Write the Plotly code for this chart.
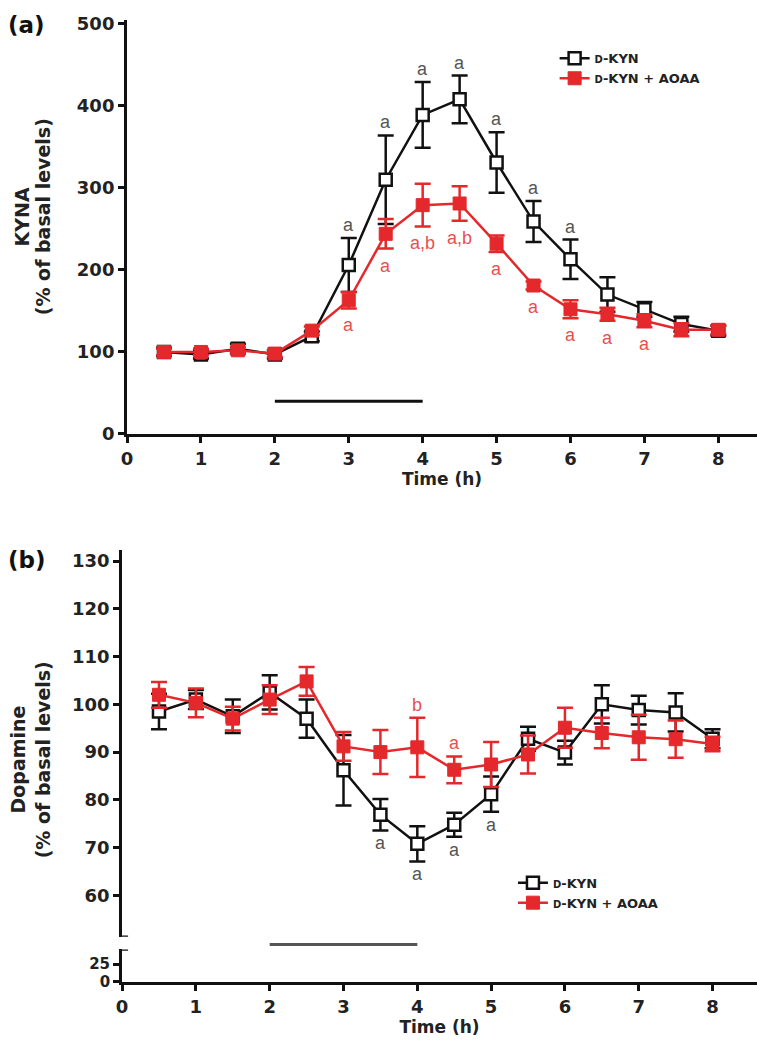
import plotly.graph_objects as go

# ---------------- data ----------------
time_h = [0.5, 1, 1.5, 2, 2.5, 3, 3.5, 4, 4.5, 5, 5.5, 6, 6.5, 7, 7.5, 8]

# Panel (a) KYNA (% of basal levels)
kyna_dkyn = [100, 97, 104, 97, 119, 206, 310, 389, 408, 331, 259, 213, 170, 152, 134, 126]
kyna_dkyn_err = [5, 5, 6, 5, 6, 33, 54, 40, 29, 37, 25, 24, 21, 9, 9, 6]
kyna_aoaa = [100, 100, 102, 98, 126, 163, 244, 279, 281, 232, 181, 152, 146, 138, 127, 127]
kyna_aoaa_err = [4, 4, 4, 4, 5, 10, 18, 26, 21, 10, 5, 11, 8, 8, 8, 5]
kyna_dkyn_sig = ["", "", "", "", "", "a", "a", "a", "a", "a", "a", "a", "", "", "", ""]
kyna_aoaa_sig = ["", "", "", "", "", "a", "a", "a,b", "a,b", "a", "a", "a", "a", "a", "", ""]

# Panel (b) Dopamine (% of basal levels)
da_dkyn = [98.5, 101, 97.5, 102.5, 97, 86.2, 76.9, 70.8, 74.8, 81.2, 92.8, 89.9, 100, 98.8, 98.3, 92.8]
da_dkyn_err = [3.7, 2, 3.5, 3.6, 4, 7.4, 3.3, 3.7, 2.5, 3.7, 2.5, 2.5, 4, 3, 4, 2]
da_aoaa = [102, 100.3, 97, 101, 104.8, 91.2, 90, 91, 86.3, 87.4, 89.5, 95.1, 94, 93.1, 92.7, 91.7]
da_aoaa_err = [2.7, 3, 2.5, 3, 3, 3, 4.6, 6.2, 2.8, 4.7, 4, 4.2, 3.2, 4.7, 3.9, 1.5]
da_dkyn_sig = ["", "", "", "", "", "", "a", "a", "a", "a", "", "", "", "", "", ""]
da_aoaa_sig = ["", "", "", "", "", "", "", "b", "a", "", "", "", "", "", "", ""]

infusion = [2, 4]          # treatment period (h)
x_ticks = [0, 1, 2, 3, 4, 5, 6, 7, 8]
kyna_ticks = [0, 100, 200, 300, 400, 500]
da_ticks_upper = [60, 70, 80, 90, 100, 110, 120, 130]
da_ticks_lower = [0, 25]

name_dkyn = "<span style='font-size:10px'>D</span>-KYN"
name_aoaa = "<span style='font-size:10px'>D</span>-KYN + AOAA"

# ---------------- styles ----------------
W, H = 757, 1050
BLACK = "#111111"
RED = "#e4282b"
RED_TXT = "#e9504f"
GREY_TXT = "#555555"
FONT = "DejaVu Sans"


def fx(p):
    return p / W


def fy(p):
    return 1 - p / H


tick_font = dict(family=FONT, size=18, color="#222222", weight="bold")
axis_common = dict(showline=True, linecolor=BLACK, linewidth=3, ticks="outside",
                   ticklen=6, tickwidth=2.5, tickcolor=BLACK, showgrid=False,
                   zeroline=False, tickfont=tick_font, fixedrange=True)

fig = go.Figure()


def add_series(x, y, err, color, filled, name, xa, ya, legend):
    if filled:
        marker = dict(symbol="square", size=13, color=color, line=dict(color=color, width=1))
    else:
        marker = dict(symbol="square", size=12, color="white", line=dict(color=color, width=2.5))
    fig.add_trace(go.Scatter(
        x=x, y=y, mode="lines+markers", name=name,
        error_y=dict(type="data", array=err, visible=True, color=color, thickness=2.5, width=8),
        line=dict(color=color, width=2.5), marker=marker,
        xaxis=xa, yaxis=ya, legend=legend, cliponaxis=False))


add_series(time_h, kyna_dkyn, kyna_dkyn_err, BLACK, False, name_dkyn, "x", "y", "legend")
add_series(time_h, kyna_aoaa, kyna_aoaa_err, RED, True, name_aoaa, "x", "y", "legend")
add_series(time_h, da_dkyn, da_dkyn_err, BLACK, False, name_dkyn, "x2", "y2", "legend2")
add_series(time_h, da_aoaa, da_aoaa_err, RED, True, name_aoaa, "x2", "y2", "legend2")

annotations = []


def add_sig(x, y, err, labels, above, color, xref, yref, shift):
    for xi, yi, ei, lab in zip(x, y, err, labels):
        if not lab:
            continue
        annotations.append(dict(
            x=xi, y=(yi + ei) if above else (yi - ei), xref=xref, yref=yref,
            text=lab, showarrow=False, yanchor="bottom" if above else "top",
            yshift=shift, font=dict(family="Liberation Sans", size=18, color=color)))


add_sig(time_h, kyna_dkyn, kyna_dkyn_err, kyna_dkyn_sig, True, GREY_TXT, "x", "y", 1)
add_sig(time_h, kyna_aoaa, kyna_aoaa_err, kyna_aoaa_sig, False, RED_TXT, "x", "y", -5)
add_sig(time_h, da_dkyn, da_dkyn_err, da_dkyn_sig, False, GREY_TXT, "x2", "y2", -1)
add_sig(time_h, da_aoaa, da_aoaa_err, da_aoaa_sig, True, RED_TXT, "x2", "y2", 1)

title_font = dict(family=FONT, size=19, color="#222222", weight="bold")
# y titles and panel letters
annotations += [
    dict(text="KYNA", x=fx(16), y=fy(213), xref="paper", yref="paper", textangle=-90,
         showarrow=False, font=title_font, xanchor="center", yanchor="middle"),
    dict(text="(% of basal levels)", x=fx(37), y=fy(213), xref="paper", yref="paper",
         textangle=-90, showarrow=False, font=title_font, xanchor="center", yanchor="middle"),
    dict(text="Dopamine", x=fx(12), y=fy(765), xref="paper", yref="paper", textangle=-90,
         showarrow=False, font=title_font, xanchor="center", yanchor="middle"),
    dict(text="(% of basal levels)", x=fx(37), y=fy(765), xref="paper", yref="paper",
         textangle=-90, showarrow=False, font=title_font, xanchor="center", yanchor="middle"),
    dict(text="(a)", x=0, y=fy(18), xref="paper", yref="paper", showarrow=False,
         xanchor="left", yanchor="middle", font=dict(family=FONT, size=23, color="#111", weight="bold")),
    dict(text="(b)", x=0, y=fy(562), xref="paper", yref="paper", showarrow=False,
         xanchor="left", yanchor="middle", font=dict(family=FONT, size=23, color="#111", weight="bold")),
]

# axis ranges (pixel-calibrated)
xa_range = [0, (757 - 122) / 74.5]
ya_range = [0, 505]
xb_range = [0, (757 - 117) / 74.4]
yb_up_range = [51.35, 132.3]
yb_lo_range = [0, 45.8]

shapes = [
    dict(type="line", xref="x", yref="y", x0=infusion[0], x1=infusion[1], y0=40, y1=40,
         line=dict(color=BLACK, width=3)),
    dict(type="line", xref="x2", yref="paper", x0=infusion[0], x1=infusion[1],
         y0=fy(953), y1=fy(953), line=dict(color="#555555", width=3)),
    # axis break caps
    dict(type="line", xref="x2", xsizemode="pixel", xanchor=0, x0=-6, x1=6,
         yref="y2", y0=yb_up_range[0], y1=yb_up_range[0], line=dict(color=BLACK, width=2.5)),
    dict(type="line", xref="x2", xsizemode="pixel", xanchor=0, x0=-6, x1=6,
         yref="y3", y0=yb_lo_range[1], y1=yb_lo_range[1], line=dict(color=BLACK, width=2.5)),
]

xtitle_font = dict(family=FONT, size=17, color="#222222", weight="bold")
legend_font = dict(family=FONT, size=13, color="#222222", weight="bold")

fig.update_layout(
    width=W, height=H, margin=dict(l=0, r=0, t=0, b=0),
    paper_bgcolor="white", plot_bgcolor="rgba(0,0,0,0)",
    xaxis=dict(axis_common, domain=[fx(122), 1], range=xa_range, tickvals=x_ticks,
               anchor="y", title=dict(text="Time (h)", font=xtitle_font, standoff=4)),
    yaxis=dict(axis_common, domain=[fy(434), fy(13)], range=ya_range, tickvals=kyna_ticks,
               anchor="x"),
    xaxis2=dict(axis_common, domain=[fx(117), 1], range=xb_range, tickvals=x_ticks,
                anchor="y3", title=dict(text="Time (h)", font=xtitle_font, standoff=4)),
    yaxis2=dict(axis_common, domain=[fy(945), fy(552)], range=yb_up_range,
                tickvals=da_ticks_upper, anchor="x2"),
    yaxis3=dict(axis_common, domain=[fy(991), fy(958)], range=yb_lo_range,
                tickvals=da_ticks_lower, anchor="x2",
                tickfont=dict(family=FONT, size=15, color="#222222", weight="bold")),
    legend=dict(x=fx(553), y=fy(37), xanchor="left", yanchor="top", bgcolor="rgba(0,0,0,0)",
                font=legend_font, tracegroupgap=0, itemclick=False),
    legend2=dict(x=fx(511), y=fy(875), xanchor="left", yanchor="top", bgcolor="rgba(0,0,0,0)",
                 font=legend_font, tracegroupgap=0, itemclick=False),
    annotations=annotations, shapes=shapes, showlegend=True,
)

fig.write_html("out.html",
               config={"displayModeBar": False},
               post_script="document.body.style.margin='0';"
                           "document.documentElement.style.overflow='hidden';")
